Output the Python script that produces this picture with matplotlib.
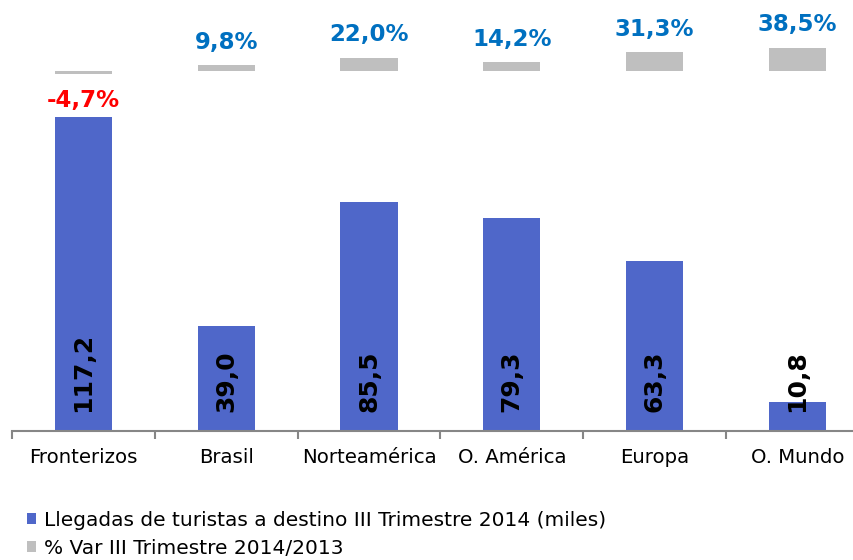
import matplotlib.pyplot as plt
import numpy as np

categories = ['Fronterizos', 'Brasil', 'Norteamérica', 'O. América', 'Europa', 'O. Mundo']
arrivals = [117.2, 39.0, 85.5, 79.3, 63.3, 10.8]
pct_var = [-4.7, 9.8, 22.0, 14.2, 31.3, 38.5]

arrivals_label = 'Llegadas de turistas a destino III Trimestre 2014 (miles)'
pct_label = '% Var III Trimestre 2014/2013'

blue = '#4F67C9'
grey = '#BFBFBF'

fig = plt.figure(figsize=(8.54, 5.6), dpi=100)
ax = fig.add_axes([12 / 854, 129 / 560, 842 / 854, 431 / 560])
x = np.arange(len(categories))

bars = ax.bar(x, arrivals, width=0.4, color=blue, label=arrivals_label, zorder=2)
ax.set_xlim(-0.5, 5.396)
ax.set_ylim(0, 431 / 2.68)

# value labels inside bars, rotated
for xi, v in zip(x, arrivals):
    ax.text(xi, 7.1, f'{v:.1f}'.replace('.', ','), rotation=90, ha='center', va='bottom',
            fontsize=18, fontweight='bold', color='black', zorder=3)

for s in ['top', 'right', 'left']:
    ax.spines[s].set_visible(False)
ax.spines['bottom'].set_color('#868686')
ax.spines['bottom'].set_linewidth(1.5)
ax.set_yticks([])
ax.set_xticks(x)
ax.set_xticklabels(categories, fontsize=14.2)
ax.tick_params(axis='x', which='major', length=0, pad=12.5)
ax.set_xticks(np.arange(-0.5, 5.5, 1.0), minor=True)
ax.tick_params(axis='x', which='minor', length=6, width=1.5, color='#868686', direction='out')

# % variation as small bars on top
ax2 = ax.twinx()
pbars = ax2.bar(x, pct_var, width=0.4, color=grey, label=pct_label, zorder=2)
ax2.set_ylim(-360 / 0.6, 71 / 0.6)
ax2.set_yticks([])
for s in ax2.spines.values():
    s.set_visible(False)

for xi, v in zip(x, pct_var):
    txt = f'{v:.1f}%'.replace('.', ',')
    if v >= 0:
        ax2.annotate(txt, (xi, v), xytext=(0, 16.5), textcoords='offset points',
                     ha='center', va='center', fontsize=16.5, fontweight='bold', color='#0070C0')
    else:
        ax2.annotate(txt, (xi, v), xytext=(0, -19.5), textcoords='offset points',
                     ha='center', va='center', fontsize=16.5, fontweight='bold', color='#FF0000')

fig.legend(handles=[bars, pbars], labels=[arrivals_label, pct_label],
           loc='upper left', bbox_to_anchor=(27 / 854, 1 - 511 / 560), frameon=False,
           fontsize=14.5, handlelength=0.47, handleheight=0.47, handletextpad=0.35,
           labelspacing=0.45, borderaxespad=0, borderpad=0)

plt.savefig('out.png', dpi=100, facecolor='white')
